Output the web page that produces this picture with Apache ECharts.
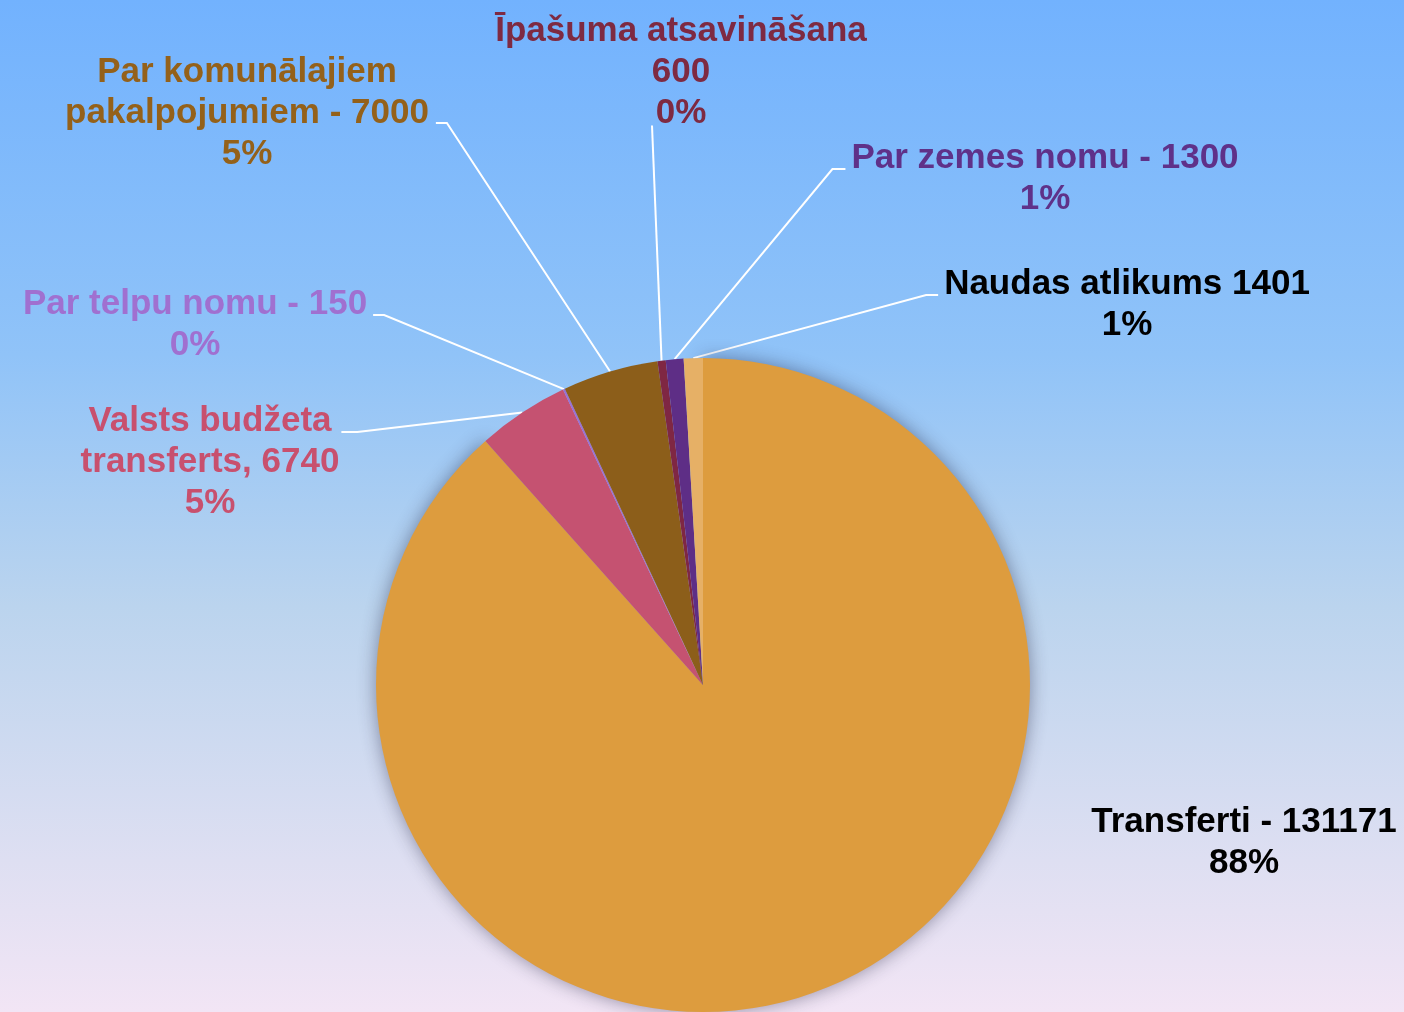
<!DOCTYPE html>
<html>
<head>
<meta charset="utf-8">
<script src="https://cdn.jsdelivr.net/npm/echarts@6/dist/echarts.min.js"></script>
<style>
html, body { margin: 0; padding: 0; }
#chart { width: 1404px; height: 1012px; }
</style>
</head>
<body>
<div id="chart"></div>
<script>
// dati (tūkst. EUR)
var categories = ['Transferti', 'Valsts budžeta\ntransferts', 'Par telpu nomu', 'Par komunālajiem\npakalpojumiem',
                  'Īpašuma atsavināšana', 'Par zemes nomu', 'Naudas atlikums'];
var values = [131171, 6740, 150, 7000, 600, 1300, 1401];
var joiners = [' - ', ', ', ' - ', ' - ', '\n', ' - ', ' '];

var sliceColors = ['#DD9C3E', '#C55271', '#9A6FD4', '#8C5E1A', '#7F2743', '#5E2E86', '#E6B066'];
var textColors = ['#000000', '#C8506E', '#A070D0', '#94611A', '#7E2A42', '#5F3189', '#000000'];

// label block centre + where the leader line meets it
var labelPlace = [
    {x: 1244, y: 843},
    {x: 210, y: 462, side: 'right', dy: -30, gap: 2, elbow: 16},
    {x: 195, y: 325, side: 'right', dy: -10, gap: 6, elbow: 11},
    {x: 247, y: 113, side: 'right', dy: 10, gap: 7, elbow: 11},
    {x: 681, y: 72, side: 'bottom', dx: -29, dy: -8},
    {x: 1045, y: 179, side: 'left', dy: -10, gap: 6, elbow: 13},
    {x: 1127, y: 305, side: 'left', dy: -10, gap: 6, elbow: 12}
];

var myChart = echarts.init(document.getElementById('chart'));

var data = [];
for (var i = 0; i < values.length; i++) {
    data.push({
        name: categories[i],
        value: values[i],
        itemStyle: { color: sliceColors[i] },
        label: { color: textColors[i] },
        labelLine: { show: labelPlace[i].side != null }
    });
}
// pie shadow
data[0].itemStyle.shadowBlur = 18;
data[0].itemStyle.shadowColor = 'rgba(30,30,60,0.45)';

var option = {
    animation: false,
    backgroundColor: {
        type: 'linear', x: 0, y: 0, x2: 0, y2: 1,
        colorStops: [
            {offset: 0, color: '#72B2FE'},
            {offset: 0.35, color: '#90C3F8'},
            {offset: 0.6, color: '#BBD4EE'},
            {offset: 0.85, color: '#DEDFF2'},
            {offset: 1, color: '#F2E5F5'}
        ]
    },
    series: [{
        type: 'pie',
        center: [703, 685],
        radius: 327,
        startAngle: 90,
        clockwise: true,
        avoidLabelOverlap: false,
        data: data,
        itemStyle: { borderWidth: 0 },
        label: {
            show: true,
            position: 'outside',
            fontFamily: '"Liberation Sans", Arial, sans-serif',
            fontWeight: 'bold',
            fontSize: 35,
            lineHeight: 41,
            formatter: function (p) {
                return p.name + joiners[p.dataIndex] + p.value + '\n' + Math.round(p.percent) + '%';
            }
        },
        labelLine: {
            show: true,
            length: 10,
            length2: 10,
            lineStyle: { color: '#ffffff', width: 2 }
        },
        labelLayout: function (p) {
            var pl = labelPlace[p.dataIndex];
            var w = p.labelRect.width, h = p.labelRect.height;
            var res = { x: pl.x, y: pl.y, align: 'center', verticalAlign: 'middle' };
            if (pl.side && p.labelLinePoints) {
                var arc = p.labelLinePoints[0];
                var ex, ey;
                if (pl.side == 'right') {
                    ex = pl.x + w / 2 + pl.gap;
                    ey = pl.y + pl.dy;
                    res.labelLinePoints = [arc, [ex + pl.elbow, ey], [ex, ey]];
                } else if (pl.side == 'left') {
                    ex = pl.x - w / 2 - pl.gap;
                    ey = pl.y + pl.dy;
                    res.labelLinePoints = [arc, [ex - pl.elbow, ey], [ex, ey]];
                } else {
                    ex = pl.x + pl.dx;
                    ey = pl.y + h / 2 + pl.dy;
                    res.labelLinePoints = [arc, [ex, ey], [ex, ey]];
                }
            }
            return res;
        }
    }]
};
myChart.setOption(option);
</script>
</body>
</html>
